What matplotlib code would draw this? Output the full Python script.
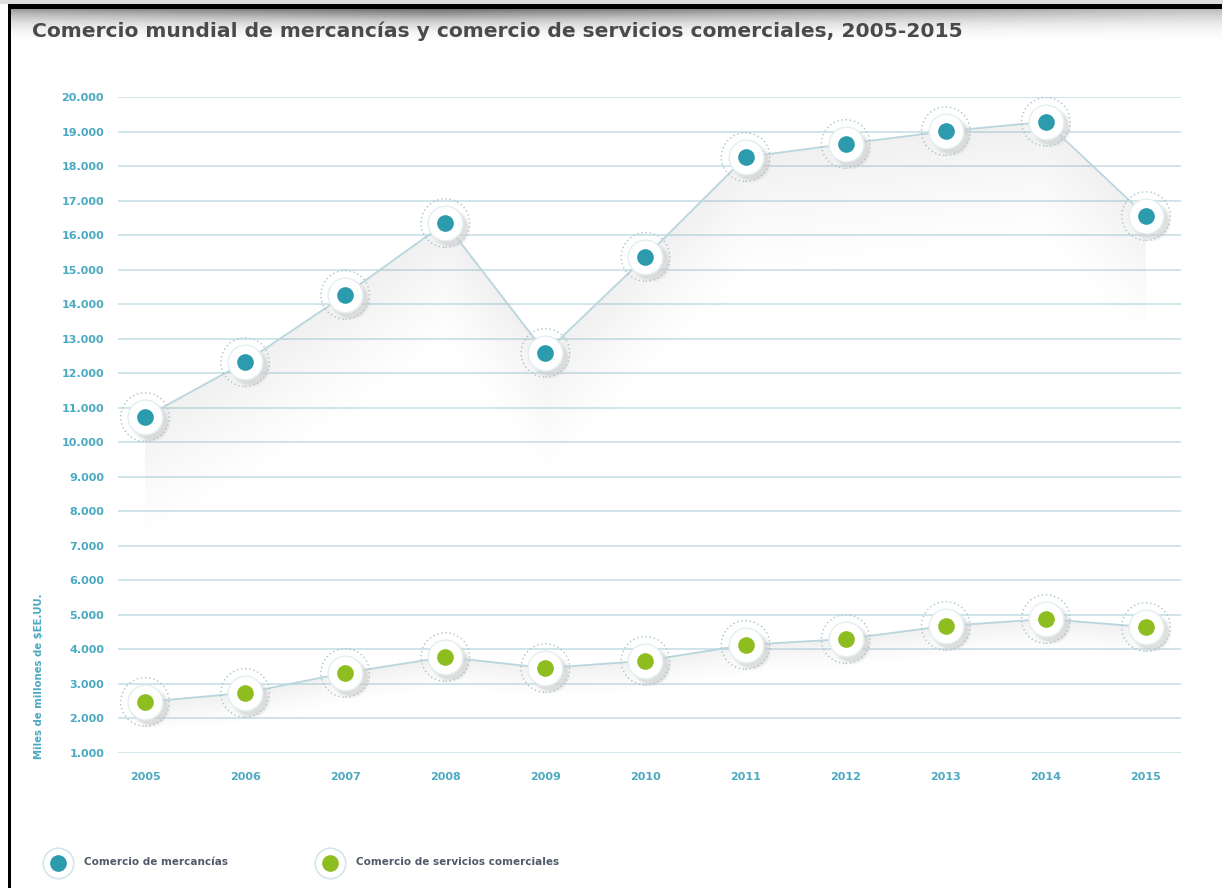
import numpy as np
import matplotlib.pyplot as plt
from matplotlib.patches import Rectangle

# data (miles de millones de $EE.UU.)
years = [2005, 2006, 2007, 2008, 2009, 2010, 2011, 2012, 2013, 2014, 2015]
mercancias = [10730, 12320, 14270, 16350, 12590, 15370, 18260, 18640, 19010, 19280, 16550]
servicios = [2480, 2740, 3320, 3780, 3460, 3670, 4130, 4300, 4680, 4880, 4650]
yticks = list(range(1000, 21000, 1000))
ytick_labels = ["{:,}".format(v).replace(",", ".") for v in yticks]

title = "Comercio mundial de mercancías y comercio de servicios comerciales, 2005-2015"
ylabel = "Miles de millones de $EE.UU."
legend_labels = ["Comercio de mercancías", "Comercio de servicios comerciales"]

teal = "#2b9bad"
green = "#8dbd1e"
grid_col = "#c8dfe6"
tick_col = "#4ba9c1"
line_col = "#b9d6df"

fig = plt.figure(figsize=(12.23, 8.88), dpi=100)

# screenshot frame: black bars on top and left with a soft shadow
bg = fig.add_axes([0, 0, 1, 1], zorder=-5)
bg.set_xlim(0, 1223)
bg.set_ylim(888, 0)
bg.axis("off")
shade = np.linspace(1, 0, 30)[:, None] ** 1.5 * np.ones((1, 200))
xs = np.linspace(0, 1, 200)
shade = shade * (0.6 + 0.4 * np.clip(1 - np.abs(xs - 0.35) * 1.6, 0, 1))[None, :]
bg.imshow(shade, cmap="Greys", vmin=0, vmax=1.6, extent=[8, 1222, 42, 9], aspect="auto")
bg.add_patch(Rectangle((0, 0), 1223, 4, color="#dddddd", lw=0))
bg.add_patch(Rectangle((8, 4), 1214, 5, color="black", lw=0))
bg.add_patch(Rectangle((8, 4), 3, 884, color="black", lw=0))

fig.text(32 / 1223, 1 - 31 / 888, title, fontsize=14.6, fontweight="bold",
         color="#4a4a4a", va="center", ha="left")

ax = fig.add_axes([118 / 1223, 1 - 753 / 888, (1181 - 118) / 1223, (753 - 97) / 888])
ax.set_xlim(2004.73, 2015.35)
ax.set_ylim(1000, 20000)
for s in ax.spines.values():
    s.set_visible(False)
ax.set_yticks(yticks)
ax.set_yticklabels(ytick_labels)
ax.set_xticks(years)
ax.set_xticklabels([str(y) for y in years])
ax.tick_params(length=0, labelsize=8, labelcolor=tick_col, pad=10)
ax.tick_params(axis="x", pad=14)
for lab in ax.get_xticklabels() + ax.get_yticklabels():
    lab.set_fontweight("bold")
ax.grid(axis="y", color=grid_col, lw=1.2)
ax.set_axisbelow(True)
ax.set_ylabel(ylabel, color=tick_col, fontsize=7.3, fontweight="bold")
ax.yaxis.set_label_coords(-0.07, 0.117)


def shaded(vals, depth, strength):
    # gray gradient hanging below the line, fading out with distance
    gx = np.linspace(years[0], years[-1], 400)
    top = max(vals)
    bottom = min(vals) - depth
    gy = np.linspace(top, bottom, 300)
    line = np.interp(gx, years, vals)
    dist = line[None, :] - gy[:, None]
    img = np.where(dist >= 0, np.clip(1 - dist / depth, 0, 1) ** 1.4, 0) * strength
    rgba = np.ones((300, 400, 4))
    rgba[..., :3] = 0.55
    rgba[..., 3] = img
    ax.imshow(rgba, aspect="auto", extent=[years[0], years[-1], bottom, top],
              origin="upper", zorder=1, interpolation="bilinear")


shaded(mercancias, 3800, 0.13)
shaded(servicios, 1000, 0.13)


def markers(vals, col):
    ax.plot(years, vals, color=line_col, lw=1.3, zorder=2)
    # soft shadow below right
    for k, a in [(28, 0.25), (25, 0.5)]:
        ax.plot(np.array(years) + 0.05, np.array(vals) - 150, "o", ms=k, color="#cfcfcf",
                mec="none", ls="none", zorder=3, alpha=a)
    ax.scatter(years, vals, s=35 ** 2, facecolors="none", edgecolors="#a9c2ca",
               linewidths=1.0, linestyles=(0, (1, 2)), zorder=3, clip_on=False)
    ax.plot(years, vals, "o", ms=25, color="white", mec="#e4eef1", mew=1.0, ls="none", zorder=4)
    ax.plot(years, vals, "o", ms=12, color=col, mec="none", ls="none", zorder=5)


markers(mercancias, teal)
markers(servicios, green)

# legend
lg = fig.add_axes([0, 0, 1, 1], zorder=6)
lg.set_xlim(0, 1223)
lg.set_ylim(888, 0)
lg.axis("off")
for x, col, lab in [(58, teal, legend_labels[0]), (330, green, legend_labels[1])]:
    lg.plot(x, 863, "o", ms=22, color="white", mec="#d4e6ec", mew=1.2)
    lg.plot(x, 863, "o", ms=12, color=col, mec="none")
    lg.text(x + 26, 862, lab, fontsize=7.5, fontweight="bold", color="#4f5a6a", va="center")

fig.savefig("out.png", dpi=100)
